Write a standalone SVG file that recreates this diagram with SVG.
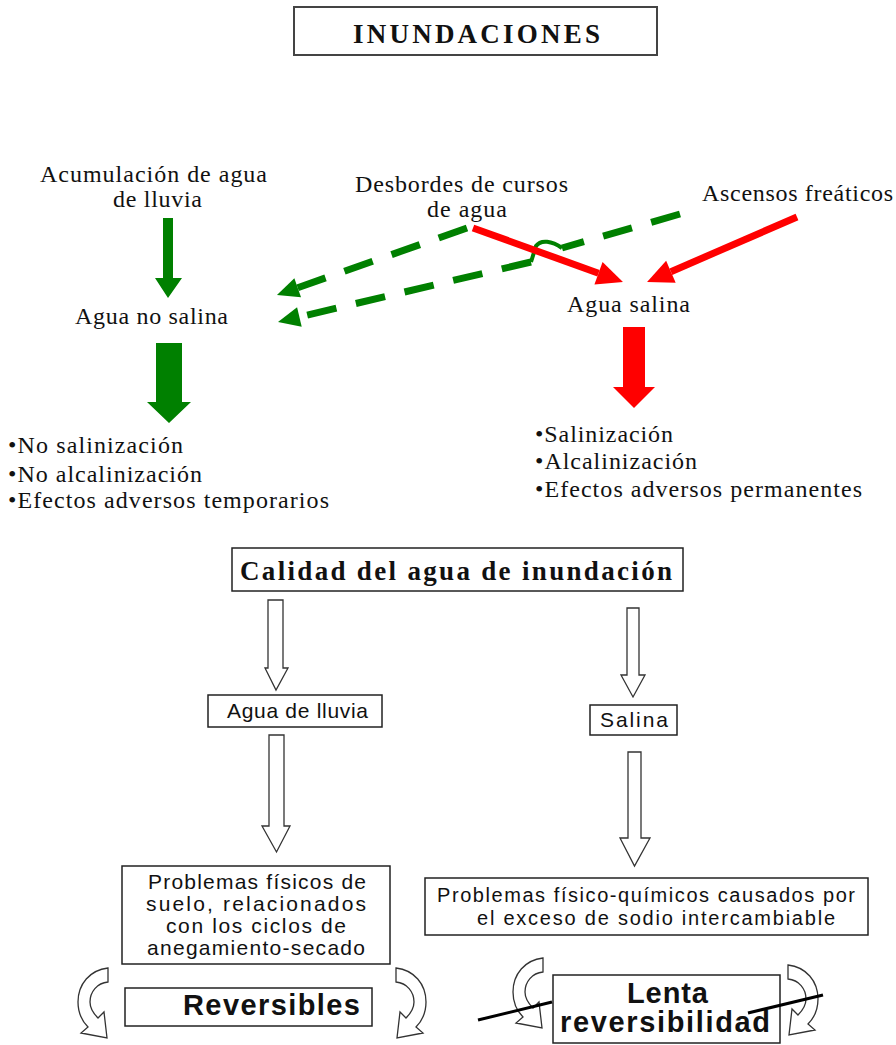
<svg xmlns="http://www.w3.org/2000/svg" width="896" height="1045" viewBox="0 0 896 1045">
<style>
.serif{font-family:"Liberation Serif","Times New Roman",serif;fill:#111}
.sans{font-family:"Liberation Sans",Arial,sans-serif;fill:#111}
.box{fill:#fff;stroke:#222;stroke-width:1.5}
.hollow{fill:#fff;stroke:#333;stroke-width:1.3}
.green{fill:#008000}
.red{fill:#ff0000}
.gdash{fill:none;stroke:#008000;stroke-width:7;stroke-dasharray:30 20}
.rline{fill:none;stroke:#ff0000;stroke-width:7}
.strike{fill:none;stroke:#000;stroke-width:3}
</style>
<defs>
<marker id="gh" markerUnits="userSpaceOnUse" markerWidth="30" markerHeight="30" refX="0" refY="0" orient="auto" overflow="visible"><path d="M0,-10 L22,0 L0,10 Z" fill="#008000"/></marker>
<marker id="rh" markerUnits="userSpaceOnUse" markerWidth="30" markerHeight="30" refX="0" refY="0" orient="auto" overflow="visible"><path d="M0,-12 L26,0 L0,12 Z" fill="#ff0000"/></marker>
<path id="curv" d="M30 0 C12 2 0 16 0 34 C0 46 4 53 10 59 L3 65 L29 70 L26 44 L20 50 C15 45 12 40 12 34 C12 24 19 15 30 14 Z"/>
</defs>

<g id="title">
<rect x="294" y="7" width="363" height="48" fill="#fff" stroke="#444" stroke-width="2"/>
<text class="serif" x="353" y="43" font-size="27" font-weight="bold" textLength="247">INUNDACIONES</text>
</g>

<g id="acumulacion">
<text class="serif" x="40" y="182" font-size="24" textLength="227">Acumulación de agua</text>
<text class="serif" x="113" y="207" font-size="24" textLength="89">de lluvia</text>
</g>

<g id="desbordes">
<text class="serif" x="355" y="192" font-size="24" textLength="213">Desbordes de cursos</text>
<text class="serif" x="427" y="217" font-size="24" textLength="80">de agua</text>
</g>

<g id="ascensos">
<text class="serif" x="702" y="201" font-size="24" textLength="191">Ascensos freáticos</text>
</g>

<g id="agua-no-salina">
<text class="serif" x="75" y="324" font-size="24" textLength="153">Agua no salina</text>
</g>

<g id="agua-salina">
<text class="serif" x="567" y="312" font-size="24" textLength="123">Agua salina</text>
</g>

<g id="efectos-no-salina">
<text class="serif" x="8" y="453" font-size="24" textLength="175">•No salinización</text>
<text class="serif" x="8" y="482" font-size="24" textLength="194">•No alcalinización</text>
<text class="serif" x="8" y="508" font-size="24" textLength="321">•Efectos adversos temporarios</text>
</g>

<g id="efectos-salina">
<text class="serif" x="535" y="442" font-size="24" textLength="138">•Salinización</text>
<text class="serif" x="535" y="469" font-size="24" textLength="162">•Alcalinización</text>
<text class="serif" x="535" y="497" font-size="24" textLength="327">•Efectos adversos permanentes</text>
</g>

<g id="calidad">
<rect class="box" x="232" y="548" width="451" height="43" stroke-width="2"/>
<text class="serif" x="240" y="580" font-size="27" font-weight="bold" textLength="432">Calidad del agua de inundación</text>
</g>

<g id="agua-de-lluvia">
<rect class="box" x="208" y="695" width="174" height="32"/>
<text class="sans" x="227" y="718" font-size="21" textLength="141">Agua de lluvia</text>
</g>

<g id="salina">
<rect class="box" x="590" y="705" width="87" height="30"/>
<text class="sans" x="600" y="727" font-size="21" textLength="68">Salina</text>
</g>

<g id="problemas-fisicos">
<rect class="box" x="122" y="866" width="268" height="98"/>
<text class="sans" x="148" y="889" font-size="21" textLength="218">Problemas físicos de</text>
<text class="sans" x="146" y="911" font-size="21" textLength="220">suelo, relacionados</text>
<text class="sans" x="166" y="933" font-size="21" textLength="180">con los ciclos de</text>
<text class="sans" x="147" y="955" font-size="21" textLength="218">anegamiento-secado</text>
</g>

<g id="problemas-fq">
<rect class="box" x="425" y="878" width="443" height="57"/>
<text class="sans" x="437" y="902" font-size="20" textLength="418">Problemas físico-químicos causados por</text>
<text class="sans" x="477" y="925" font-size="20" textLength="358">el exceso de sodio intercambiable</text>
</g>

<g id="reversibles">
<rect class="box" x="125" y="988" width="247" height="38"/>
<text class="sans" x="183" y="1015" font-size="29" font-weight="bold" textLength="177">Reversibles</text>
</g>

<g id="lenta">
<rect class="box" x="553" y="975" width="227" height="68"/>
<text class="sans" x="627" y="1003" font-size="29" font-weight="bold" textLength="81">Lenta</text>
<text class="sans" x="560" y="1032" font-size="29" font-weight="bold" textLength="210">reversibilidad</text>
</g>

<g id="connectors">
<polygon class="green" points="163,218 173,218 173,278 182,278 168,298 155,278 163,278"/>
<polygon class="green" points="156,343 182,343 182,402 191,402 169,423 147,402 156,402"/>
<polygon class="red" points="623,327 645,327 645,387 655,387 634,408 613,387 623,387"/>
<path class="gdash" d="M467,228 L297.7,287.7" marker-end="url(#gh)"/>
<path class="gdash" d="M680,214 L562,248"/>
<path d="M562,248 C552,241 541,239 536,246 L531,262" fill="none" stroke="#008000" stroke-width="4"/>
<path class="gdash" d="M531,262 L299.4,316.9" marker-end="url(#gh)"/>
<path class="rline" d="M473,228 L598.5,273.2" marker-end="url(#rh)"/>
<path class="rline" d="M797,217 L670.9,271.7" marker-end="url(#rh)"/>
<path class="hollow" d="M268,600 H283 V668 H288 L276,690 L265,668 H268 Z"/>
<path class="hollow" d="M269,735 H284 V826 H290 L276.5,852 L262,826 H269 Z"/>
<path class="hollow" d="M627,608 H639 V675 H645 L633,697 L621,675 H627 Z"/>
<path class="hollow" d="M628,752 H641 V838 H650 L634.5,866 L620,838 H628 Z"/>
<use href="#curv" class="hollow" transform="translate(78,968)"/>
<use href="#curv" class="hollow" transform="translate(426,968) scale(-1,1)"/>
<use href="#curv" class="hollow" transform="translate(513,958)"/>
<use href="#curv" class="hollow" transform="translate(818,965) scale(-1,1)"/>
<line class="strike" x1="478" y1="1020" x2="552" y2="1002"/>
<line class="strike" x1="748" y1="1013" x2="823" y2="995"/>
</g>
</svg>
